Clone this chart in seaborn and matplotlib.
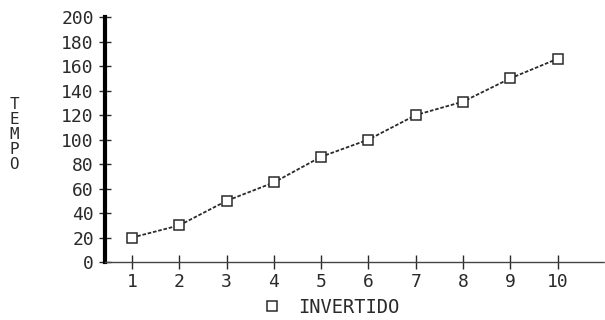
import pandas as pd
import seaborn as sns
import matplotlib.pyplot as plt
from matplotlib.lines import Line2D

tamanos = [1, 2, 3, 4, 5, 6, 7, 8, 9, 10]
tiempos = [20, 30, 50, 65, 86, 100, 120, 131, 150, 166]
serie = "INVERTIDO"
y_ticks = [0, 20, 40, 60, 80, 100, 120, 140, 160, 180, 200]

df = pd.DataFrame({"n": tamanos, "tempo": tiempos})

sns.set_style("ticks")
plt.rcParams["font.family"] = ["DejaVu Sans Mono"]
ink = "#2a2a2a"

fig = plt.figure(figsize=(6.05, 3.2), dpi=100)
ax = fig.add_axes([0.1736, 0.181, 0.8264, 0.7656])

sns.lineplot(data=df, x="n", y="tempo", ax=ax, color=ink, linewidth=1.3,
             linestyle=(0, (2, 1)), marker="s", markersize=7,
             markerfacecolor="white", markeredgecolor=ink, markeredgewidth=1.1)

ax.set_xlim(0.43, 11.0)
ax.set_ylim(0, 200)
ax.set_xticks(tamanos)
ax.set_yticks(y_ticks)
ax.tick_params(axis="y", direction="inout", length=8, width=1, pad=4,
               labelsize=13, colors=ink)
ax.tick_params(axis="x", direction="inout", length=10, width=1, pad=3,
               labelsize=13, colors=ink)

for s in ["top", "right"]:
    ax.spines[s].set_visible(False)
ax.spines["left"].set_linewidth(3)
ax.spines["left"].set_color("black")
ax.spines["bottom"].set_linewidth(1)
ax.spines["bottom"].set_color("#444444")
ax.spines["bottom"].set_linestyle((0, (4, 1)))

ax.set_xlabel("")
ax.set_ylabel("T\nE\nM\nP\nO", rotation=0, fontsize=11.5, color=ink,
              linespacing=1.0, va="center", ha="center")
ax.yaxis.set_label_coords(-0.182, 0.52)

handle = Line2D([], [], linestyle="none", marker="s", markersize=7,
                markerfacecolor="white", markeredgecolor=ink, markeredgewidth=1.1)
fig.legend(handles=[handle], labels=[serie], loc="center",
           bbox_to_anchor=(0.54, 0.04), frameon=False, fontsize=13.5,
           handletextpad=0.4, labelcolor=ink)

fig.savefig("out.png", dpi=100, facecolor="white")
